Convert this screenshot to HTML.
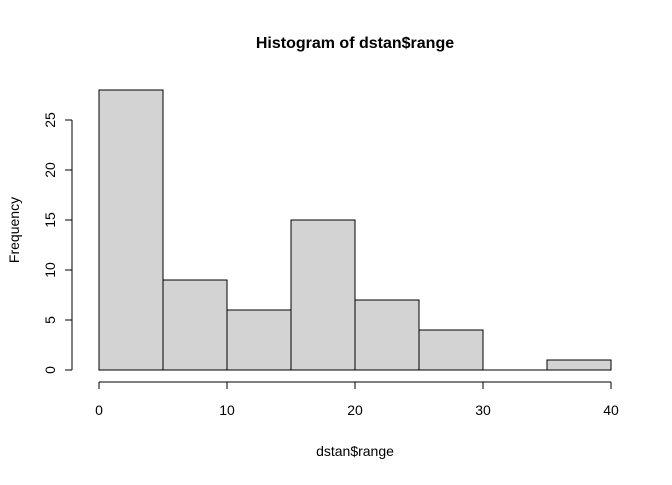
<!DOCTYPE html>
<html><head><meta charset="utf-8"><style>
body{margin:0;background:#fff}
svg text{font-family:"Liberation Sans",Arial,sans-serif;fill:#000}
</style></head><body>
<svg id="chart" width="672" height="480" xmlns="http://www.w3.org/2000/svg">
<text x="355" y="48" text-anchor="middle" font-size="16" font-weight="bold">Histogram of dstan$range</text>
<text x="355" y="456" text-anchor="middle" font-size="14">dstan$range</text>
<text x="19" y="230" text-anchor="middle" font-size="14" transform="rotate(-90 19 230)">Frequency</text>
<g id="bars"></g><g id="axes"></g>
</svg>
<script>
const binStarts=[0,5,10,15,20,25,30,35];
const binWidth=5;
const counts=[28,9,6,15,7,4,0,1];
const xTicks=[0,10,20,30,40];
const yTicks=[0,5,10,15,20,25];
const NS="http://www.w3.org/2000/svg";
const X=v=>99+v*12.8, Y=v=>370-v*10;
function mk(t,a,p){const e=document.createElementNS(NS,t);for(const k in a)e.setAttribute(k,a[k]);p.appendChild(e);return e;}
const bars=document.getElementById('bars'), axes=document.getElementById('axes');
binStarts.forEach((s,i)=>{
 let r;
 if(counts[i]===0){
  r=mk('line',{x1:X(s),x2:X(s+binWidth),y1:Y(0),y2:Y(0),stroke:'#000','stroke-width':1},bars);
 } else {
  r=mk('rect',{x:X(s),y:Y(counts[i]),width:X(s+binWidth)-X(s),height:Y(0)-Y(counts[i]),fill:'#d3d3d3',stroke:'#000','stroke-width':1},bars);
 }
 
 
});
const xl=mk('line',{x1:X(xTicks[0]),x2:X(xTicks[xTicks.length-1]),y1:382,y2:382,stroke:'#000'},axes);


xTicks.forEach(t=>{
 mk('line',{x1:X(t),x2:X(t),y1:382,y2:389,stroke:'#000'},axes);
 const tx=mk('text',{x:X(t),y:415,'text-anchor':'middle','font-size':14},axes);tx.textContent=t;
 
 
});
const yl=mk('line',{x1:72,x2:72,y1:Y(yTicks[0]),y2:Y(yTicks[yTicks.length-1]),stroke:'#000'},axes);


yTicks.forEach(t=>{
 mk('line',{x1:65,x2:72,y1:Y(t),y2:Y(t),stroke:'#000'},axes);
 const tx=mk('text',{x:55,y:Y(t),'text-anchor':'middle','font-size':14,transform:`rotate(-90 55 ${Y(t)})`},axes);tx.textContent=t;
 
 
});
</script>
</body></html>
